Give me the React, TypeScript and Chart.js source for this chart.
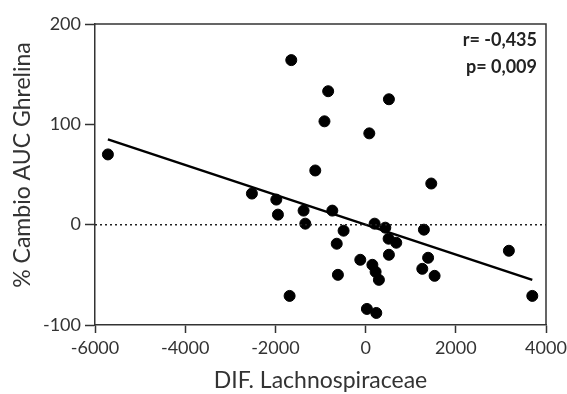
import React, { useEffect, useRef } from "react";
import { Chart, registerables } from "chart.js";

Chart.register(...registerables);

const pointsX = [-5714, -2521, -1980, -1944, -1375, -1337, -1685, -1648, -830, -912, -1116, -738, -488, -640, -614, -118, 150, 222, 295, 29, 237, 200, 437, 510, 680, 517, 82, 517, 1456, 1293, 1386, 1257, 1530, 3177, 3696];
const pointsY = [70, 31, 25, 10, 14, 1, -71, 164, 133, 103, 54, 14, -6, -19, -50, -35, -40, -47, -55, -84, -88, 1, -3, -14, -18, -30, 91, 125, 41, -5, -33, -44, -51, -26, -71];
const regX = [-5714, 3696];
const regY = [85, -55];
const zeroX = [-6000, 4000];
const zeroY = [0, 0];
const xTicks = [-6000, -4000, -2000, 0, 2000, 4000];
const yTicks = [-100, 0, 100, 200];
const statLines = ["r= -0,435", "p= 0,009"];
const xTitle = "DIF. Lachnospiraceae";
const yTitle = "% Cambio AUC Ghrelina";

const FONT = "Lato, 'Open Sans', sans-serif";
const AXIS = "#333333";

const framePlugin = {
  id: "frame",
  afterDraw(chart: any) {
    const { ctx, chartArea } = chart;
    ctx.save();
    ctx.strokeStyle = AXIS;
    ctx.lineWidth = 1.5;
    ctx.beginPath();
    ctx.moveTo(chartArea.left, chartArea.top);
    ctx.lineTo(chartArea.right, chartArea.top);
    ctx.lineTo(chartArea.right, chartArea.bottom);
    ctx.stroke();
    ctx.fillStyle = "#222";
    ctx.font = `bold 18px ${FONT}`;
    ctx.textAlign = "right";
    ctx.textBaseline = "middle";
    ctx.fillText(statLines[0], chartArea.right - 9, 40);
    ctx.fillText(statLines[1], chartArea.right - 9, 67);
    // y title
    ctx.fillStyle = AXIS;
    ctx.font = `23px ${FONT}`;
    ctx.textAlign = "center";
    ctx.textBaseline = "middle";
    ctx.translate(23, 165);
    ctx.rotate(-Math.PI / 2);
    ctx.fillText(yTitle, 0, 0);
    ctx.restore();
  },
};

export default function App() {
  const ref = useRef<HTMLCanvasElement | null>(null);
  useEffect(() => {
    if (!ref.current) return;
    const chart = new Chart(ref.current, {
      type: "scatter",
      data: {
        datasets: [
          {
            data: zeroX.map((x, i) => ({ x, y: zeroY[i] })),
            showLine: true,
            borderColor: "#222",
            borderWidth: 1.5,
            borderDash: [2, 3],
            pointRadius: 0,
          },
          {
            data: regX.map((x, i) => ({ x, y: regY[i] })),
            showLine: true,
            borderColor: "#000",
            borderWidth: 2.5,
            pointRadius: 0,
          },
          {
            data: pointsX.map((x, i) => ({ x, y: pointsY[i] })),
            backgroundColor: "#000",
            borderColor: "#000",
            pointRadius: 5.5,
          },
        ],
      },
      options: {
        animation: false,
        responsive: false,
        layout: { padding: { left: 0, top: 24, right: 21, bottom: 0 } },
        plugins: { legend: { display: false }, tooltip: { enabled: false } },
        scales: {
          x: {
            type: "linear",
            min: -6000,
            max: 4000,
            afterBuildTicks: (s: any) => {
              s.ticks = xTicks.map((v) => ({ value: v }));
            },
            afterFit: (s: any) => {
              s.height = 69;
              s.paddingLeft = 0;
              s.paddingRight = 0;
            },
            ticks: { color: AXIS, font: { family: FONT, size: 18 }, padding: 4, maxRotation: 0, callback: (v: any) => String(v) },
            grid: { display: true, drawOnChartArea: false, drawTicks: true, tickLength: 8, tickColor: AXIS, tickWidth: 1.5 },
            border: { display: true, color: AXIS, width: 1.5 },
            title: { display: true, text: xTitle, color: AXIS, font: { family: FONT, size: 23 }, padding: { top: 0, bottom: 0 } },
          },
          y: {
            type: "linear",
            min: -100,
            max: 200,
            afterBuildTicks: (s: any) => {
              s.ticks = yTicks.map((v) => ({ value: v }));
            },
            afterFit: (s: any) => {
              s.width = 95;
              s.paddingTop = 0;
              s.paddingBottom = 0;
            },
            ticks: { color: AXIS, font: { family: FONT, size: 18 }, padding: 4, callback: (v: any) => String(v) },
            grid: { display: true, drawOnChartArea: false, drawTicks: true, tickLength: 10, tickColor: AXIS, tickWidth: 1.5 },
            border: { display: true, color: AXIS, width: 1.5 },
            title: { display: false },
          },
        },
      },
      plugins: [framePlugin],
    });
    return () => chart.destroy();
  }, []);
  return (
    <div style={{ position: "fixed", left: 0, top: 0, width: 567, height: 394, background: "#fff" }}>
      <canvas ref={ref} width={567} height={394} style={{ display: "block" }} />
    </div>
  );
}
